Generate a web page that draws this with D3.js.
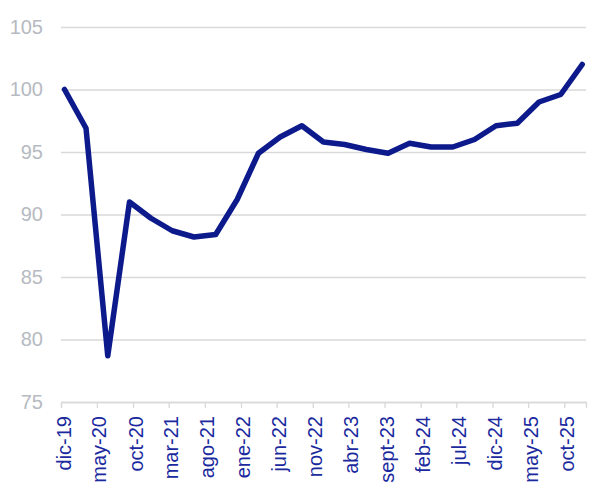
<!DOCTYPE html>
<html>
<head>
<meta charset="utf-8">
<script src="https://cdn.jsdelivr.net/npm/d3@7"></script>
<style>
  body { margin: 0; background: #fff; }
  svg { font-family: "Liberation Sans", Arial, sans-serif; }
</style>
</head>
<body>
<div id="chart"></div>
<script>
// quarterly index, dic-19 = 100
var months = ['2019-12','2020-03','2020-06','2020-09','2020-12','2021-03','2021-06','2021-09',
              '2021-12','2022-03','2022-06','2022-09','2022-12','2023-03','2023-06','2023-09',
              '2023-12','2024-03','2024-06','2024-09','2024-12','2025-03','2025-06','2025-09','2025-12'];
var values = [100, 96.9, 78.7, 91.0, 89.7, 88.7, 88.2, 88.4,
              91.2, 94.9, 96.2, 97.1, 95.8, 95.6, 95.2, 94.9,
              95.7, 95.4, 95.4, 96.0, 97.1, 97.3, 99.0, 99.6, 102.0];
var tickMonths = ['2019-12','2020-05','2020-10','2021-03','2021-08','2022-01','2022-06','2022-11',
                  '2023-04','2023-09','2024-02','2024-07','2024-12','2025-05','2025-10'];
var tickLabels = ['dic-19','may-20','oct-20','mar-21','ago-21','ene-22','jun-22','nov-22',
                  'abr-23','sept-23','feb-24','jul-24','dic-24','may-25','oct-25'];
var yTicks = [75, 80, 85, 90, 95, 100, 105];

var w = 590;
var h = 490;
var margin = ({top: 27, right: 4, bottom: 88, left: 61});

var parse = d3.timeParse('%Y-%m');
// points sit in the middle of their month
var mid = s => { var d = parse(s); return new Date(d.getFullYear(), d.getMonth(), 16); };

var data = months.map((m, i) => ({date: mid(m), value: values[i]}));

var x = d3.scaleTime()
     .domain([new Date(2019, 11, 1), new Date(2026, 0, 1)])
     .range([margin.left, w - margin.right]);

var y = d3.scaleLinear()
     .domain([75, 105])
     .range([h - margin.bottom, margin.top]);

var svg = d3.select('#chart')
     .append('svg')
     .attr('width', w)
     .attr('height', h);

// grid + y labels
var yAxis = d3.axisLeft(y)
     .tickValues(yTicks)
     .tickSize(-(w - margin.left - margin.right))
     .tickPadding(18);

svg.append('g')
     .attr('transform', 'translate(' + margin.left + ',0)')
     .call(yAxis)
     .call(g => g.select('.domain').remove())
     .call(g => g.selectAll('.tick line').attr('stroke', '#d9d9d9').attr('stroke-width', 1.3))
     .call(g => g.selectAll('.tick text')
          .attr('fill', '#b6bac1')
          .attr('font-size', 20));

// x axis
var xAxis = d3.axisBottom(x)
     .tickValues(tickMonths.map(parse))
     .tickFormat((d, i) => tickLabels[i])
     .tickSize(6);

svg.append('g')
     .attr('transform', 'translate(0,' + (h - margin.bottom) + ')')
     .call(xAxis)
     .call(g => g.select('.domain').attr('stroke', '#d9d9d9').attr('stroke-width', 1.3))
     .call(g => g.selectAll('.tick line').attr('stroke', '#d9d9d9').attr('stroke-width', 1.3))
     .call(g => g.selectAll('.tick text')
          .attr('fill', '#1a2a9e')
          .attr('font-size', 20)
          .attr('text-anchor', 'end')
          .attr('transform', 'rotate(-90)')
          .attr('x', -14)
          .attr('y', 2)
          .attr('dy', '0.35em'));

var line = d3.line()
     .x(d => x(d.date))
     .y(d => y(d.value));

svg.append('path')
     .datum(data)
     .attr('fill', 'none')
     .attr('stroke', '#0c1a8c')
     .attr('stroke-width', 5.5)
     .attr('stroke-linejoin', 'round')
     .attr('stroke-linecap', 'round')
     .attr('d', line);
</script>
</body>
</html>
